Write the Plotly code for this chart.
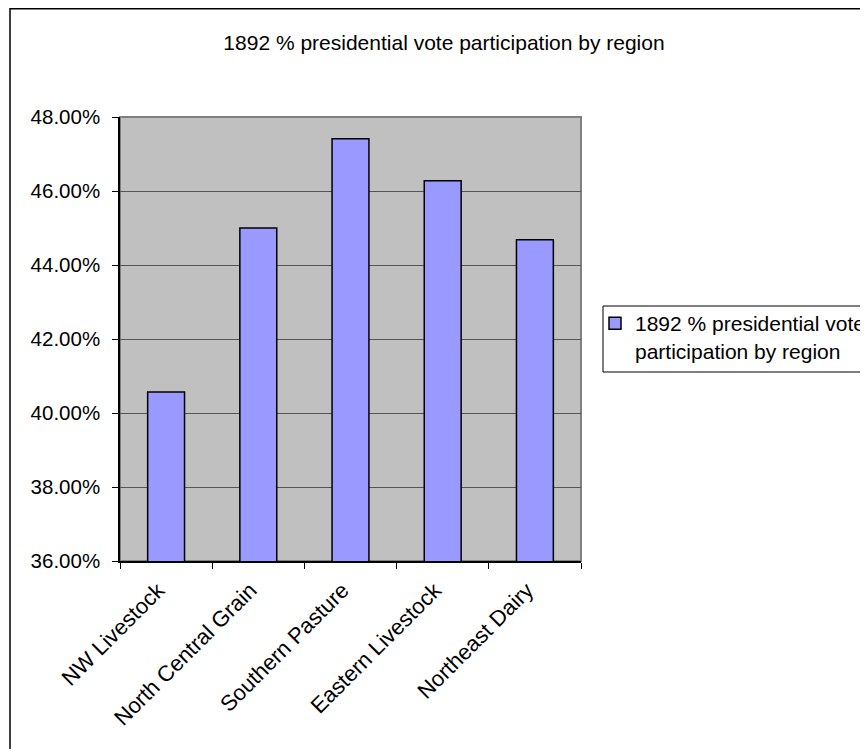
import plotly.graph_objects as go

# ---- data ----
categories = ["NW Livestock", "North Central Grain", "Southern Pasture",
              "Eastern Livestock", "Northeast Dairy"]
participation = [0.4057, 0.4500, 0.4741, 0.4628, 0.4468]
series_name = "1892 % presidential vote<br>participation by region"
title_text = "1892 % presidential vote participation by region"
y_ticks = [0.36, 0.38, 0.40, 0.42, 0.44, 0.46, 0.48]

# ---- layout geometry (pixels in the 868x749 window; the page body has an 8px margin) ----
OFF = 8
W, H = 868 - OFF, 749 - OFF
L, R, T, B = 120 - OFF, 581 - OFF, 117 - OFF, 561 - OFF


def px_x(p):
    return (p - OFF - L) / (R - L)


def px_y(p):
    return (B - (p - OFF)) / (B - T)


FONT = "Liberation Sans, Arial, sans-serif"

fig = go.Figure()
fig.add_trace(go.Bar(
    x=categories,
    y=participation,
    name=series_name,
    marker=dict(color="#9999FF", line=dict(color="#000000", width=1.5)),
    showlegend=True,
))

fig.update_layout(
    width=W, height=H,
    margin=dict(l=L, r=W - R, t=T, b=H - B, autoexpand=False),
    paper_bgcolor="white",
    plot_bgcolor="#C0C0C0",
    bargap=0.6,
    font=dict(family=FONT, color="black", size=20),
    title=dict(text=title_text, x=(444 - OFF) / W, xanchor="center",
               y=1 - (43 - OFF) / H, yanchor="middle", xref="container", yref="container",
               font=dict(family=FONT, size=21, color="black")),
    xaxis=dict(
        type="category",
        tickangle=-45,
        tickson="boundaries",
        ticks="outside", ticklen=6, tickcolor="#000000", tickwidth=1,
        showline=True, linecolor="#000000", linewidth=1.5,
        showgrid=False,
        ticklabelshift=-8,
        ticklabelstandoff=6,
        tickfont=dict(family=FONT, size=22, color="black"),
    ),
    yaxis=dict(
        range=[0.36, 0.48],
        tickvals=y_ticks,
        tickformat=".2%",
        ticks="outside", ticklen=6, tickcolor="#000000", tickwidth=1,
        showline=True, linecolor="#000000", linewidth=1.5,
        showgrid=True, gridcolor="#555555", gridwidth=1,
        zeroline=False,
        ticklabelstandoff=8,
        tickfont=dict(family=FONT, size=20.5, color="black"),
    ),
    legend=dict(
        x=px_x(595), xanchor="left",
        y=px_y(303), yanchor="top",
        bgcolor="rgba(0,0,0,0)",
        borderwidth=0,
        valign="top",
        font=dict(family=FONT, size=21, color="black"),
        itemclick=False, itemdoubleclick=False,
    ),
    shapes=[
        # plot area border (top/right grey)
        dict(type="rect", xref="paper", yref="paper", x0=0, x1=1, y0=0, y1=1,
             line=dict(color="#808080", width=2), layer="below"),
        # outer chart frame
        dict(type="rect", xref="paper", yref="paper",
             x0=px_x(10), x1=px_x(880), y0=px_y(8.8), y1=px_y(760),
             line=dict(color="#000000", width=1.5)),
        # legend box
        dict(type="rect", xref="paper", yref="paper",
             x0=px_x(603), x1=px_x(880), y0=px_y(306), y1=px_y(372),
             line=dict(color="#000000", width=1)),
    ],
)

fig.write_html("out.html")
